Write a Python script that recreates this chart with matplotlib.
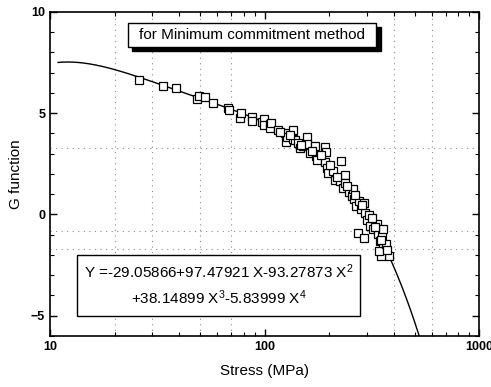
import numpy as np
import matplotlib.pyplot as plt
from matplotlib.patches import Rectangle
from matplotlib.ticker import MultipleLocator, FixedLocator, NullFormatter

plt.rcParams['font.family'] = ['Liberation Sans', 'DejaVu Sans']
plt.rcParams['mathtext.fontset'] = 'custom'
plt.rcParams['mathtext.rm'] = 'Liberation Sans'
plt.rcParams['mathtext.it'] = 'Liberation Sans:italic'

# fit coefficients, Y = sum c_i * X^i with X = log10(stress)
coef = [-29.05866, 97.47921, -93.27873, 38.14899, -5.83999]

stress = [26.1, 33.5, 38.6, 48.3, 49.7, 52.8, 57.7, 67.6, 67.9, 76.9, 77.5, 87.1, 87.4,
          97.1, 98.9, 99.4, 105.4, 106, 107.5, 116, 124.7, 125.5, 126.5, 135, 136, 139,
          143.8, 146, 151, 157, 158, 163, 172, 174, 176, 191, 192, 194, 195, 197, 209,
          212, 225, 228, 231, 236, 237, 248, 254, 257, 261, 267, 274, 282, 289, 293,
          299, 305, 309, 273, 290, 321, 333, 338, 345, 354, 356, 362, 366, 378, 356,
          350, 342, 366, 118, 131, 148, 166, 183, 201, 218, 243, 264, 284, 315, 327,
          348, 371]
gval = [6.64, 6.34, 6.23, 5.70, 5.87, 5.79, 5.52, 5.25, 5.16, 4.75, 5.03, 4.80, 4.64,
        4.59, 4.70, 4.43, 4.48, 4.26, 4.54, 4.18, 4.02, 3.56, 3.82, 3.72, 4.15, 3.66,
        3.52, 3.28, 3.36, 3.85, 3.49, 3.03, 3.39, 2.87, 2.70, 2.57, 3.33, 3.07, 2.30,
        2.05, 2.13, 1.72, 1.64, 2.62, 1.31, 1.97, 1.56, 1.10, 0.90, 1.26, 0.74, 0.41,
        0.66, 0.25, 0.57, 0.08, -0.25, -0.05, -0.57, -0.90, -1.15, -0.74, -0.49, -0.98,
        -1.31, -1.07, -0.74, -1.56, -1.89, -2.05, -1.64, -2.05, -1.80, -1.48, 4.05,
        3.90, 3.45, 3.15, 2.95, 2.45, 1.85, 1.40, 0.95, 0.45, -0.20, -0.60, -1.25,
        -1.75]

grid_x = [20, 30, 50, 70, 400, 600]
grid_y = [3.3, -0.8, -1.7]

fig = plt.figure(figsize=(4.91, 3.87), dpi=100)
ax = fig.add_axes([0.102, 0.132, 0.874, 0.837])

for gx in grid_x:
    ax.axvline(gx, color='0.55', ls=(0, (1, 4)), lw=0.8, zorder=0)
for gy in grid_y:
    ax.axhline(gy, color='0.55', ls=(0, (1, 4)), lw=0.8, zorder=0)

s = np.logspace(np.log10(10.9), 3, 400)
X = np.log10(s)
Y = sum(c * X**i for i, c in enumerate(coef))
ax.plot(s, Y, color='black', lw=1.0, zorder=2)

ax.plot(stress, gval, ls='none', marker='s', ms=5.5, mfc='white', mec='black',
        mew=0.9, zorder=3)

ax.set_xscale('log')
ax.set_xlim(10, 1000)
ax.set_ylim(-6, 10)
ax.yaxis.set_major_locator(FixedLocator([-5, 0, 5, 10]))
ax.yaxis.set_minor_locator(MultipleLocator(1))
ax.set_xticks([10, 100, 1000])
ax.set_xticklabels(['10', '100', '1000'])
ax.xaxis.set_minor_formatter(NullFormatter())
ax.tick_params(which='both', direction='in', top=True, right=True, labelsize=9)
ax.tick_params(which='major', length=5, width=1)
ax.tick_params(which='minor', length=3, width=0.8)
for t in ax.get_xticklabels() + ax.get_yticklabels():
    t.set_fontweight('bold')
for sp in ax.spines.values():
    sp.set_linewidth(1.2)

ax.set_xlabel('Stress (MPa)', fontsize=11, labelpad=8)
ax.set_ylabel('G function', fontsize=11, labelpad=6)

# title box with shadow
ax.add_patch(Rectangle((0.192, 0.880), 0.578, 0.074, transform=ax.transAxes,
                       facecolor='black', edgecolor='black', zorder=4))
ax.add_patch(Rectangle((0.182, 0.892), 0.578, 0.074, transform=ax.transAxes,
                       facecolor='white', edgecolor='black', lw=1.0, zorder=5))
ax.text(0.471, 0.929, 'for Minimum commitment method', transform=ax.transAxes,
        ha='center', va='center', fontsize=11, zorder=6)

# equation box
ax.add_patch(Rectangle((0.063, 0.062), 0.66, 0.188, transform=ax.transAxes,
                       facecolor='white', edgecolor='black', lw=1.0, zorder=5))
ax.text(0.393, 0.197, 'Y =-29.05866+97.47921 X-93.27873 X$^2$', transform=ax.transAxes,
        ha='center', va='center', fontsize=11, zorder=6)
ax.text(0.393, 0.118, '+38.14899 X$^3$-5.83999 X$^4$', transform=ax.transAxes,
        ha='center', va='center', fontsize=11, zorder=6)

fig.savefig('out.png', dpi=100)
